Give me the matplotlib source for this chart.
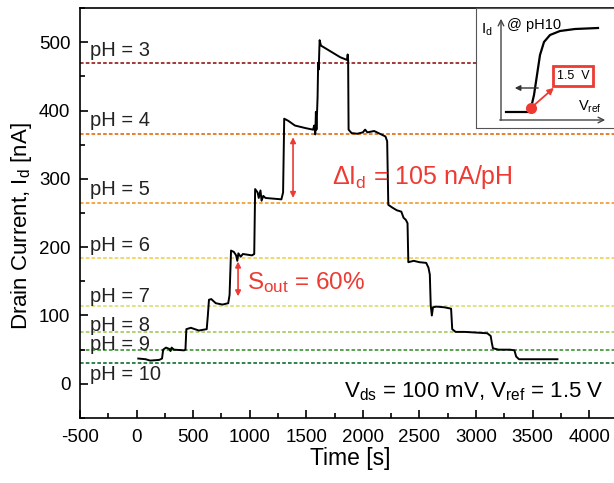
import matplotlib
matplotlib.use('Agg')
import matplotlib.pyplot as plt
from matplotlib.ticker import MultipleLocator

plt.rcParams['font.family'] = ['Liberation Sans', 'DejaVu Sans']
plt.rcParams['mathtext.default'] = 'regular'
plt.rcParams['axes.unicode_minus'] = False

# drain current trace
time_s = [15, 80, 120, 200, 225, 235, 260, 290, 300, 310, 330, 420, 432, 440, 480, 550, 620,
          630, 640, 660, 700, 760, 810, 822, 835, 860, 880, 890, 900, 920, 940, 1020, 1040,
          1048, 1070, 1080, 1095, 1105, 1120, 1140, 1280, 1295, 1305, 1340, 1400, 1500, 1560,
          1570, 1580, 1585, 1590, 1600, 1605, 1610, 1618, 1630, 1700, 1800, 1860, 1866, 1870,
          1874, 1900, 1950, 2000, 2020, 2040, 2100, 2150, 2200, 2215, 2225, 2260, 2300, 2340,
          2360, 2380, 2395, 2402, 2450, 2500, 2560, 2580, 2592, 2600, 2610, 2620, 2650, 2720,
          2780, 2790, 2820, 2900, 3000, 3100, 3130, 3140, 3150, 3200, 3300, 3340, 3355, 3380,
          3500, 3720]
current_nA = [37, 36, 34, 35, 37, 50, 53, 51, 48, 53, 50, 49, 50, 80, 82, 78, 80,
              100, 123, 124, 118, 116, 118, 130, 195, 193, 188, 180, 191, 186, 190, 188, 190,
              285, 280, 272, 283, 268, 275, 272, 270, 280, 388, 385, 378, 374, 372,
              378, 365, 398, 372, 420, 470, 460, 503, 495, 488, 478, 474, 482, 474,
              372, 367, 366, 368, 372, 368, 370, 366, 362, 355, 262, 258, 254, 252,
              243, 240, 235, 178, 180, 178, 177, 170, 160, 115, 100, 112, 113, 112,
              110, 80, 76, 76, 75, 74, 70, 60, 52, 50, 50, 49, 40, 36,
              36, 36]

ph_labels = ['pH = 3', 'pH = 4', 'pH = 5', 'pH = 6', 'pH = 7', 'pH = 8', 'pH = 9', 'pH = 10']
ph_levels = [469, 366, 265, 184, 114, 76, 49, 31]
ph_colors = ['#9b2a2a', '#e8751e', '#f2a13a', '#f3d35a', '#d9e27a', '#a9cf6a', '#4c9c42', '#1d7a3c']
label_y = [488, 385, 284, 203, 128, 86, 58, 14]

red = '#ee3a33'

fig = plt.figure(figsize=(6.14, 4.83), dpi=100)
ax = fig.add_axes([0.1303, 0.1346, 0.8697, 0.8488])

for lvl, col in zip(ph_levels, ph_colors):
    ax.axhline(lvl, color=col, lw=1.3, ls=(0, (2, 1.2)), zorder=1)
for lab, ly in zip(ph_labels, label_y):
    ax.text(-415, ly, lab, fontsize=14.5, va='center', ha='left', color='#222222')

ax.plot(time_s, current_nA, color='black', lw=1.4, zorder=3)

# annotations
ax.annotate('', xy=(1383, 365), xytext=(1383, 268),
            arrowprops=dict(arrowstyle='<|-|>', color=red, lw=1.2, mutation_scale=8))
ax.text(1730, 303, r'$\Delta$I$_\mathregular{d}$ = 105 nA/pH', color=red, fontsize=18,
        va='center', ha='left')
ax.annotate('', xy=(897, 183), xytext=(897, 124),
            arrowprops=dict(arrowstyle='<|-|>', color=red, lw=1.2, mutation_scale=8))
ax.text(975, 148, r'S$_\mathregular{out}$ = 60%', color=red, fontsize=17.5, va='center', ha='left')
ax.text(4124, -12, r'V$_\mathregular{ds}$ = 100 mV, V$_\mathregular{ref}$ = 1.5 V', fontsize=16,
        va='center', ha='right')

ax.set_xlim(-500, 4220)
ax.set_ylim(-50, 550)
ax.xaxis.set_major_locator(MultipleLocator(500))
ax.xaxis.set_minor_locator(MultipleLocator(250))
ax.yaxis.set_minor_locator(MultipleLocator(50))
ax.set_yticks([0, 100, 200, 300, 400, 500])
ax.tick_params(which='both', direction='in', labelsize=13.5, width=1.2)
ax.tick_params(which='major', length=6)
ax.tick_params(which='minor', length=3.5)
ax.tick_params(axis='x', pad=8)
ax.tick_params(axis='y', pad=7)
ax.spines['right'].set_visible(False)
for s in ['left', 'bottom', 'top']:
    ax.spines[s].set_linewidth(1.2)
ax.set_xlabel('Time [s]', fontsize=16.5)
ax.set_ylabel('Drain Current, I$_\mathregular{d}$ [nA]', fontsize=16)
ax.xaxis.set_label_coords(0.506, -0.071)
ax.yaxis.set_label_coords(-0.109, 0.468)
ax.yaxis.label.set_va('center')

# inset schematic (pixel coordinates of the picture)
sketch_x = [506, 528, 531, 534, 537, 540, 544, 550, 560, 575, 598]
sketch_y = [112, 112, 108, 95, 75, 55, 42, 35, 31, 29, 28]

ins = fig.add_axes([476 / 614, 1 - 128 / 483, 138 / 614, 120 / 483])
ins.set_xlim(476, 614)
ins.set_ylim(128, 8)
ins.set_xticks([])
ins.set_yticks([])
ins.spines['right'].set_visible(False)
for s in ['left', 'bottom', 'top']:
    ins.spines[s].set_color('#555555')
ins.plot(sketch_x, sketch_y, color='black', lw=1.6)
ins.annotate('', xy=(501, 16), xytext=(501, 123),
             arrowprops=dict(arrowstyle='->', color='#444444', lw=1))
ins.annotate('', xy=(608, 120), xytext=(497, 120),
             arrowprops=dict(arrowstyle='->', color='#444444', lw=1))
ins.annotate('', xy=(512, 88), xytext=(541, 88),
             arrowprops=dict(arrowstyle='-|>', color='#333333', lw=1, mutation_scale=8))
ins.annotate('', xy=(556, 86), xytext=(532, 107),
             arrowprops=dict(arrowstyle='-|>', color=red, lw=1.3, mutation_scale=9))
ins.plot([531], [108], 'o', color=red, ms=7)
ins.text(573, 76, '1.5  V', fontsize=9, ha='center', va='center',
         bbox=dict(boxstyle='square,pad=0.3', fc='white', ec=red, lw=2))
ins.text(481, 30, 'I$_\mathregular{d}$', fontsize=11, ha='left', va='center')
ins.text(507, 25, '@ pH10', fontsize=10.5, ha='left', va='center')
ins.text(578, 107, 'V$_\mathregular{ref}$', fontsize=10.5, ha='left', va='center')

fig.savefig('out.png', dpi=100)
